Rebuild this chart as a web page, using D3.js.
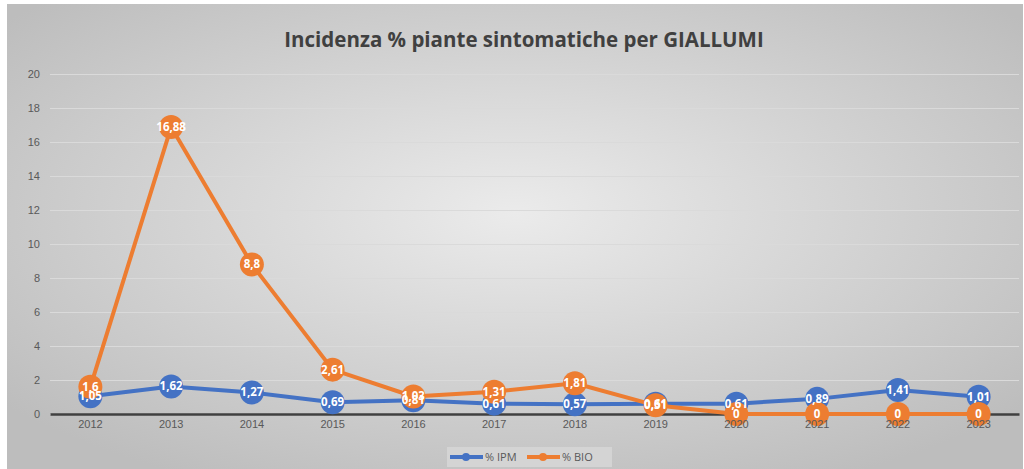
<!DOCTYPE html>
<html>
<head>
<meta charset="utf-8">
<script src="https://cdn.jsdelivr.net/npm/d3@7.9.0/dist/d3.min.js"></script>
<style>
  body { margin: 0; background: #fff; }
  svg { display: block; font-family: 'Open Sans', 'Liberation Sans', sans-serif; }
</style>
</head>
<body>
<div id="chart"></div>
<script>
// Data
const years = ['2012', '2013', '2014', '2015', '2016', '2017', '2018', '2019', '2020', '2021', '2022', '2023'];
const ipm = [1.05, 1.62, 1.27, 0.69, 0.81, 0.61, 0.57, 0.61, 0.61, 0.89, 1.41, 1.01];
const bio = [1.6, 16.88, 8.8, 2.61, 1.03, 1.31, 1.81, 0.51, 0, 0, 0, 0];
const yTicks = [0, 2, 4, 6, 8, 10, 12, 14, 16, 18, 20];
const seriesNames = ['% IPM', '% BIO'];
const seriesColors = ['#4472c4', '#ed7d31'];

const width = 1024;
const height = 469;

const svg = d3.select('#chart')
  .append('svg')
  .attr('width', width)
  .attr('height', height);

// background with radial shading
const defs = svg.append('defs');
const grad = defs.append('radialGradient')
  .attr('id', 'bg')
  .attr('cx', '50%').attr('cy', '45%').attr('r', '65%');
grad.append('stop').attr('offset', '0%').attr('stop-color', '#ebebeb');
grad.append('stop').attr('offset', '100%').attr('stop-color', '#bdbdbd');

svg.append('rect')
  .attr('x', 7).attr('y', 4)
  .attr('width', 1016).attr('height', 465)
  .attr('fill', 'url(#bg)');

const plot = { left: 50, right: 1019, top: 74, bottom: 414 };

const x = d3.scaleBand()
  .domain(years)
  .range([plot.left, plot.right]);

const y = d3.scaleLinear()
  .domain([0, 20])
  .range([plot.bottom, plot.top]);

// gridlines
svg.append('g')
  .attr('class', 'gridlines')
  .attr('transform', `translate(${plot.left}, 0)`)
  .call(d3.axisLeft(y).tickValues(yTicks).tickFormat('').tickSize(-(plot.right - plot.left)))
  .call(g => g.select('.domain').remove())
  .call(g => g.selectAll('line').attr('stroke', '#dadada').attr('stroke-width', 1));

// y axis labels
svg.append('g')
  .attr('transform', `translate(${plot.left}, 0)`)
  .call(d3.axisLeft(y).tickValues(yTicks).tickSize(0).tickPadding(10))
  .call(g => g.select('.domain').remove())
  .call(g => g.selectAll('text')
    .attr('fill', '#595959')
    .style('font-size', '11px'));

// x axis line (labels drawn later, above the markers)
svg.append('g')
  .attr('transform', `translate(0, ${plot.bottom})`)
  .call(d3.axisBottom(x).tickSize(0).tickFormat(''))
  .call(g => g.select('.domain').attr('stroke', '#404040').attr('stroke-width', 2.5));

// title
svg.append('text')
  .attr('x', 524)
  .attr('y', 47)
  .attr('text-anchor', 'middle')
  .attr('fill', '#404040')
  .style('font-size', '20.5px')
  .style('font-weight', 'bold')
  .text('Incidenza % piante sintomatiche per GIALLUMI');

const cx = (d, i) => x(years[i]) + x.bandwidth() / 2;
const line = d3.line()
  .x((d, i) => x(years[i]) + x.bandwidth() / 2)
  .y(d => y(d));

const allSeries = [ipm, bio];

allSeries.forEach((values, s) => {
  const g = svg.append('g');
  g.append('path')
    .datum(values)
    .attr('fill', 'none')
    .attr('stroke', seriesColors[s])
    .attr('stroke-width', 4)
    .attr('stroke-linejoin', 'round')
    .attr('d', line);
  g.selectAll('circle')
    .data(values)
    .join('circle')
    .attr('cx', cx)
    .attr('cy', d => y(d))
    .attr('r', 12)
    .attr('fill', seriesColors[s]);
});

// x axis labels
svg.append('g')
  .attr('transform', `translate(0, ${plot.bottom})`)
  .call(d3.axisBottom(x).tickSize(0).tickPadding(6))
  .call(g => g.select('.domain').remove())
  .call(g => g.selectAll('text')
    .attr('fill', '#595959')
    .style('font-size', '11px'));

// data labels on top
allSeries.forEach((values, s) => {
  svg.append('g')
    .selectAll('text')
    .data(values)
    .join('text')
    .attr('x', cx)
    .attr('y', d => y(d) + 4)
    .attr('text-anchor', 'middle')
    .attr('fill', '#ffffff')
    .style('font-size', '11.5px')
    .style('font-weight', 'bold')
    .text(d => String(d).replace('.', ','));
});

// legend
const legend = svg.append('g');
legend.append('rect')
  .attr('x', 447).attr('y', 447)
  .attr('width', 165).attr('height', 20)
  .attr('fill', '#d4d4d4');

const legendX = [450, 527];
seriesNames.forEach((name, i) => {
  const lx = legendX[i];
  legend.append('line')
    .attr('x1', lx).attr('x2', lx + 33)
    .attr('y1', 457).attr('y2', 457)
    .attr('stroke', seriesColors[i])
    .attr('stroke-width', 4);
  legend.append('circle')
    .attr('cx', lx + 16).attr('cy', 457)
    .attr('r', 4)
    .attr('fill', seriesColors[i]);
  legend.append('text')
    .attr('x', lx + 35).attr('y', 461)
    .attr('fill', '#595959')
    .style('font-size', '11px')
    .text(name);
});
</script>
</body>
</html>
